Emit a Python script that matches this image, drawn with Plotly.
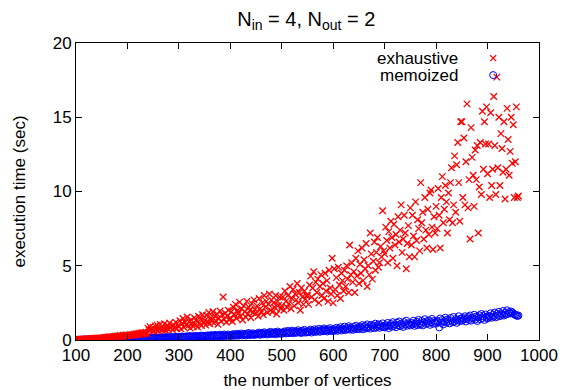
import plotly.graph_objects as go

# vertex counts (every 2 from 100 to 960)
vertices = list(range(100, 962, 2))

exhaustive = (
    # 100-148
    [0.02,0.03,0.02,0.04,0.03,0.05,0.04,0.06,0.05,0.07,0.05,0.08,0.06,0.09,0.07,0.1,0.08,0.11,0.09,0.12,0.1,0.13,0.11,0.14,0.12]
    # 150-198
    + [0.14,0.12,0.16,0.13,0.18,0.15,0.2,0.16,0.22,0.18,0.19,0.24,0.2,0.26,0.21,0.25,0.28,0.22,0.3,0.24,0.27,0.32,0.25,0.3,0.34]
    # 200-248
    + [0.28,0.33,0.3,0.36,0.31,0.38,0.33,0.4,0.35,0.42,0.36,0.45,0.38,0.48,0.4,0.5,0.42,0.46,0.52,0.44,0.8,0.65,0.9,0.72,0.6]
    # 250-298
    + [0.85,0.6,0.95,0.7,1.0,0.62,0.78,1.05,0.68,0.9,0.75,1.1,0.66,0.82,0.98,0.72,1.15,0.8,0.92,0.7,1.02,0.86,1.2,0.76,0.95]
    # 300-348
    + [0.9,1.3,0.75,1.1,1.45,0.85,1.2,1.0,1.55,0.95,1.25,0.8,1.35,1.1,0.9,1.5,1.05,1.3,0.88,1.6,1.15,1.4,0.98,1.7,1.2]
    # 350-398
    + [1.3,1.0,1.65,1.2,1.85,1.1,1.5,1.35,1.9,1.15,1.6,1.3,1.75,1.05,1.45,1.95,1.25,1.7,2.9,1.4,1.8,1.2,1.6,2.0,1.35]
    # 400-448
    + [1.5,1.9,1.25,2.2,1.7,2.4,1.45,2.0,1.8,2.55,1.6,2.1,1.35,2.3,1.9,1.55,2.6,1.75,2.2,2.0,1.5,2.45,1.85,2.7,2.05]
    # 450-498
    + [1.8,2.3,1.6,2.8,2.1,1.9,2.5,1.7,3.0,2.2,2.6,1.85,2.4,3.1,2.0,2.7,1.9,2.5,2.2,3.0,1.75,2.6,2.35,2.9,2.1]
    # 500-548
    + [2.3,2.9,2.0,3.3,2.6,2.2,3.0,2.45,3.6,2.1,2.8,3.4,2.3,3.1,2.7,3.8,2.5,3.2,2.0,3.5,2.9,2.4,3.3,2.75,3.0]
    # 550-598
    + [3.0,2.4,3.7,4.3,2.9,3.5,4.6,2.7,3.9,3.2,4.1,2.5,3.6,4.4,3.0,3.8,2.8,4.5,3.3,4.0,2.6,4.7,3.5,3.1,5.5]
    # 600-648
    + [2.5,4.8,3.4,4.2,3.0,4.9,3.7,2.8,4.5,4.0,3.3,4.7,3.6,5.0,4.1,3.2,6.4,4.4,5.2,3.9,4.6,3.2,5.5,4.3,6.0]
    # 650-698
    + [3.8,5.1,4.5,6.2,4.0,5.4,4.8,6.5,3.6,5.0,4.4,7.2,5.8,4.1,5.3,6.6,4.7,5.9,6.9,4.9,5.2,6.3,5.6,8.7,6.0]
    # 700-748
    + [5.8,7.6,6.7,5.2,7.3,6.2,8.0,6.9,5.5,7.8,6.4,7.1,5.0,8.3,6.6,7.4,9.1,5.9,6.8,8.4,7.2,4.8,6.5,7.7,5.6]
    # 750-798
    + [8.9,6.4,8.4,7.0,5.6,9.3,6.7,8.1,7.5,6.0,10.6,7.9,8.6,6.8,9.6,7.4,6.2,8.8,7.1,9.9,10.1,7.6,6.1,8.3,7.2]
    # 800-848
    + [9.0,7.5,10.2,8.4,6.2,9.6,11.0,7.9,8.8,10.4,9.3,7.2,9.9,8.1,10.6,11.6,7.9,9.1,12.4,8.6,11.8,13.3,10.6,8.0,14.7]
    # 850-898
    + [14.7,9.6,13.6,9.1,12.0,15.9,8.9,10.8,6.8,14.3,12.3,11.1,9.0,12.8,10.8,13.1,7.2,10.3,13.3,9.8,15.4,11.5,14.7,13.2,15.7]
    # 900-960
    + [11.2,13.2,9.6,15.3,10.4,11.5,16.4,13.1,9.8,17.7,11.6,15.0,10.4,13.9,12.9,11.3,14.7,9.5,11.5,15.6,13.5,11.1,12.7,15.0,11.9,14.5,9.6,12.0,15.7,9.6,9.7]
)

memoized = (
    [0.01,0.01,0.02,0.01,0.02,0.02,0.01,0.02,0.03,0.02,0.02,0.03,0.02,0.03,0.03,0.02,0.04,0.03,0.03,0.04,0.03,0.04,0.05,0.03,0.04]
    + [0.04,0.05,0.04,0.06,0.05,0.04,0.06,0.05,0.07,0.05,0.06,0.07,0.06,0.05,0.08,0.06,0.07,0.09,0.06,0.08,0.07,0.09,0.08,0.07,0.1]
    + [0.08,0.1,0.07,0.11,0.09,0.12,0.08,0.1,0.13,0.09,0.12,0.1,0.14,0.11,0.09,0.13,0.12,0.15,0.1,0.14,0.12,0.16,0.11,0.15,0.13]
    + [0.12,0.16,0.14,0.18,0.11,0.15,0.17,0.13,0.19,0.15,0.12,0.18,0.16,0.2,0.14,0.17,0.21,0.15,0.19,0.13,0.18,0.22,0.16,0.2,0.17]
    + [0.15,0.21,0.18,0.24,0.16,0.2,0.23,0.17,0.25,0.19,0.22,0.27,0.18,0.24,0.21,0.26,0.2,0.28,0.23,0.19,0.27,0.22,0.3,0.24,0.26]
    + [0.22,0.29,0.25,0.31,0.2,0.27,0.33,0.24,0.3,0.26,0.35,0.23,0.29,0.32,0.27,0.36,0.25,0.31,0.28,0.38,0.26,0.33,0.3,0.37,0.29]
    + [0.27,0.34,0.3,0.4,0.28,0.36,0.32,0.42,0.29,0.37,0.33,0.44,0.31,0.39,0.35,0.3,0.43,0.36,0.47,0.33,0.4,0.37,0.45,0.34,0.41]
    + [0.36,0.44,0.39,0.5,0.35,0.42,0.47,0.38,0.52,0.41,0.45,0.37,0.49,0.43,0.55,0.4,0.47,0.44,0.53,0.39,0.48,0.57,0.42,0.5,0.46]
    + [0.42,0.52,0.47,0.58,0.44,0.5,0.61,0.46,0.55,0.49,0.63,0.45,0.53,0.59,0.48,0.57,0.66,0.51,0.55,0.47,0.62,0.53,0.68,0.5,0.58]
    + [0.52,0.6,0.56,0.7,0.5,0.63,0.58,0.72,0.54,0.66,0.6,0.75,0.55,0.64,0.7,0.59,0.78,0.62,0.68,0.57,0.73,0.65,0.8,0.61,0.69]
    + [0.6,0.72,0.66,0.82,0.62,0.75,0.69,0.86,0.64,0.78,0.7,0.9,0.67,0.8,0.74,0.93,0.7,0.84,0.77,0.68,0.88,0.75,0.96,0.72,0.85]
    + [0.74,0.9,0.8,1.0,0.72,0.86,0.95,0.78,1.05,0.83,0.92,0.76,1.02,0.88,0.98,0.8,1.1,0.85,0.95,1.05,0.82,1.0,0.9,1.12,0.87]
    + [0.85,1.0,0.92,1.15,0.8,0.98,1.08,0.9,1.2,0.95,1.05,0.86,1.16,1.0,1.25,0.93,1.1,1.02,0.88,1.2,1.06,1.3,0.96,1.12,1.04]
    + [0.98,1.15,1.05,1.3,0.95,1.1,1.22,1.0,1.35,1.12,1.05,1.28,0.98,1.18,1.4,1.08,1.25,1.14,1.32,1.02,1.2,1.42,1.1,1.28,1.16]
    + [1.1,1.3,1.2,0.85,1.45,1.15,1.35,1.05,1.25,1.5,1.18,1.38,1.28,1.12,1.48,1.3,1.2,1.55,1.25,1.4,1.15,1.35,1.6,1.28,1.45]
    + [1.3,1.48,1.38,1.6,1.25,1.42,1.55,1.35,1.65,1.3,1.5,1.45,1.7,1.38,1.58,1.28,1.52,1.66,1.4,1.75,1.48,1.6,1.35,1.72,1.55]
    + [1.45,1.62,1.55,1.8,1.5,1.68,1.58,1.85,1.52,1.75,1.65,1.9,1.6,1.78,1.7,1.95,1.65,1.82,1.72,2.0,1.76,1.88,1.8,1.92,1.85,1.78,1.72,1.7,1.66,1.62,1.65]
)

x_ticks = [100, 200, 300, 400, 500, 600, 700, 800, 900, 1000]
y_ticks = [0, 5, 10, 15, 20]

FONT = "Liberation Sans, Arial, sans-serif"
RED = "#ff0000"
BLUE = "#0000ff"

fig = go.Figure()
fig.add_trace(go.Scatter(
    x=vertices, y=memoized, mode="markers", name="memoized",
    marker=dict(symbol="circle-open", size=7, color=BLUE, line=dict(width=1, color=BLUE)),
))
fig.add_trace(go.Scatter(
    x=vertices, y=exhaustive, mode="markers", name="exhaustive",
    marker=dict(symbol="x-thin", size=6.5, color=RED, line=dict(width=1.3, color=RED)),
))

axis_common = dict(
    showgrid=False, zeroline=False, showline=True, linecolor="black", linewidth=1,
    mirror="ticks", ticks="inside", ticklen=6, tickcolor="black", tickwidth=1,
    tickfont=dict(family=FONT, size=17, color="black"), automargin=False,
)

fig.update_layout(
    width=562, height=390,
    margin=dict(l=76, r=23, t=43, b=50),
    paper_bgcolor="white", plot_bgcolor="white",
    showlegend=False,
    title=dict(text="N<sub>in</sub> = 4, N<sub>out</sub> = 2", x=0.545, xanchor="center",
               y=0.952, yanchor="middle", font=dict(family=FONT, size=20, color="black"),
               automargin=False),
    xaxis=dict(range=[100, 1000], tickvals=x_ticks,
               title=dict(text="the number of vertices", font=dict(family=FONT, size=17, color="black"), standoff=9),
               **axis_common),
    yaxis=dict(range=[0, 20], tickvals=y_ticks,
               title=dict(text="execution time (sec)", font=dict(family=FONT, size=17, color="black"), standoff=22),
               **axis_common),
)

# gnuplot-style key: text on the left, sample marker on the right
key_items = [("exhaustive", 0.949), ("memoized", 0.892)]
for label, ky in key_items:
    fig.add_annotation(text=label, xref="paper", yref="paper", x=0.829, y=ky,
                       xanchor="right", yanchor="middle", showarrow=False,
                       font=dict(family=FONT, size=17, color="black"))

# key samples drawn as pixel-sized shapes anchored in paper coords
kx = 0.901
fig.add_shape(type="line", xref="paper", yref="paper", xsizemode="pixel", ysizemode="pixel",
              xanchor=kx, yanchor=0.949, x0=-3, x1=3, y0=-3, y1=3, line=dict(color=RED, width=1.3))
fig.add_shape(type="line", xref="paper", yref="paper", xsizemode="pixel", ysizemode="pixel",
              xanchor=kx, yanchor=0.949, x0=-3, x1=3, y0=3, y1=-3, line=dict(color=RED, width=1.3))
fig.add_shape(type="circle", xref="paper", yref="paper", xsizemode="pixel", ysizemode="pixel",
              xanchor=kx, yanchor=0.892, x0=-3.5, x1=3.5, y0=-3.5, y1=3.5, line=dict(color=BLUE, width=1))

fig.write_html("out.html", config={"displayModeBar": False},
               post_script="document.body.style.margin='0';document.body.style.overflow='hidden';")
